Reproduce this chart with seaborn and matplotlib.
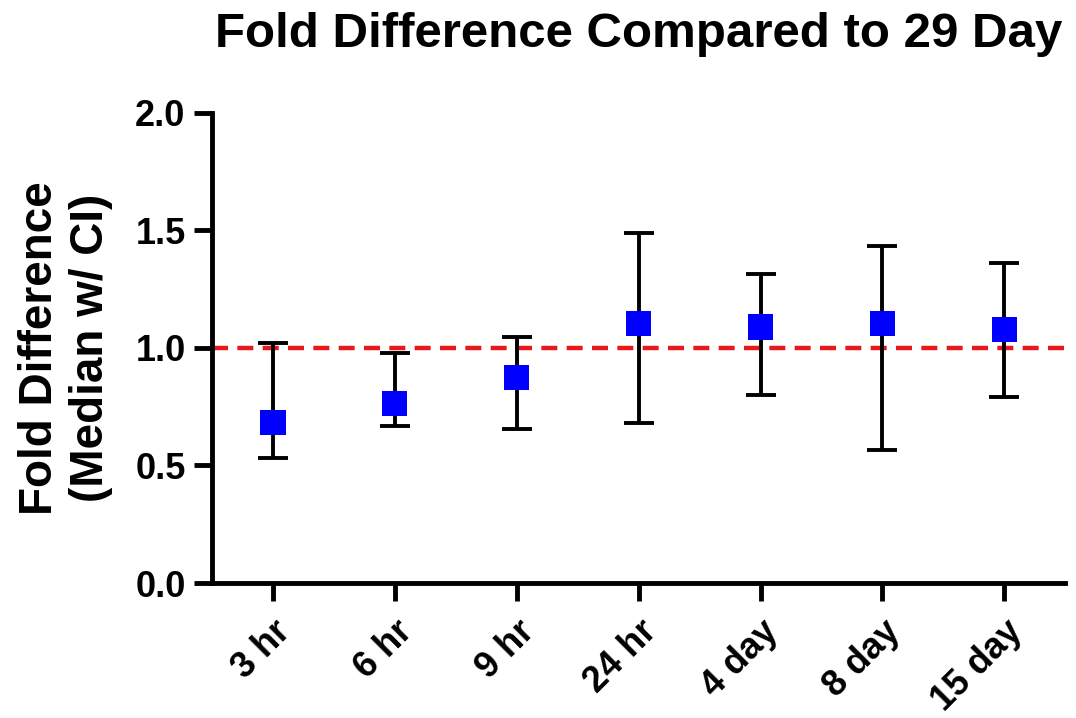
import matplotlib
matplotlib.use("Agg")
import matplotlib.pyplot as plt
import seaborn as sns
import pandas as pd

# Values
time_points = ['3 hr', '6 hr', '9 hr', '24 hr', '4 day', '8 day', '15 day']
median_fold = [0.684, 0.763, 0.874, 1.104, 1.089, 1.104, 1.078]
ci_lower = [0.532, 0.668, 0.654, 0.681, 0.800, 0.565, 0.793]
ci_upper = [1.020, 0.980, 1.048, 1.488, 1.315, 1.434, 1.360]
reference_level = 1.0
y_ticks = [0.0, 0.5, 1.0, 1.5, 2.0]

sns.set_style("ticks")
plt.rcParams['font.family'] = ['Liberation Sans', 'DejaVu Sans']
plt.rcParams['font.weight'] = 'bold'
plt.rcParams['text.color'] = 'black'
plt.rcParams['axes.labelcolor'] = 'black'
plt.rcParams['xtick.color'] = 'black'
plt.rcParams['ytick.color'] = 'black'

df = pd.DataFrame({'time': time_points, 'median': median_fold,
                   'lo': ci_lower, 'hi': ci_upper})

fig = plt.figure(figsize=(10.76, 7.18), dpi=100)
ax = fig.add_axes([0.197, 0.188, 0.793, 0.655])

# reference line at 1.0
ax.axhline(reference_level, color='#e8191c', linestyle=(0, (3.6, 2.1)), linewidth=3.2, zorder=1)

# CI error bars
x_pos = range(len(df))
ax.errorbar(x_pos, df['median'],
            yerr=[df['median'] - df['lo'], df['hi'] - df['median']],
            fmt='none', ecolor='black', elinewidth=2.8, capsize=11, capthick=2.8, zorder=2)

sns.scatterplot(data=df, x='time', y='median', marker='s', s=330, color='#0000ff',
                edgecolor='none', ax=ax, zorder=3)

ax.set_xlim(-0.5, 6.5)
ax.set_ylim(0, 2.0)
ax.set_yticks(y_ticks)
ax.set_yticklabels([f"{v:.1f}" for v in y_ticks])
ax.set_xticks(list(x_pos))
ax.set_xticklabels(time_points, rotation=45, ha='right', rotation_mode='anchor')

sns.despine(ax=ax)
for side in ['left', 'bottom']:
    ax.spines[side].set_linewidth(3.5)
    ax.spines[side].set_color('black')
ax.tick_params(axis='both', direction='out', length=13, width=3.5, color='black')
ax.tick_params(axis='y', labelsize=26, pad=6, labelcolor='black')
ax.tick_params(axis='x', labelsize=26, pad=9, labelcolor='black')
for lbl in ax.get_xticklabels() + ax.get_yticklabels():
    lbl.set_fontweight('bold')

ax.set_xlabel('')
ax.set_ylabel("Fold Difference\n(Median w/ CI)", fontsize=33, fontweight='bold',
              labelpad=16, color='black')
ax.set_title("Fold Difference Compared to 29 Day", fontsize=35.5, fontweight='bold',
             pad=47, color='black')

fig.savefig('out.png', dpi=100)
